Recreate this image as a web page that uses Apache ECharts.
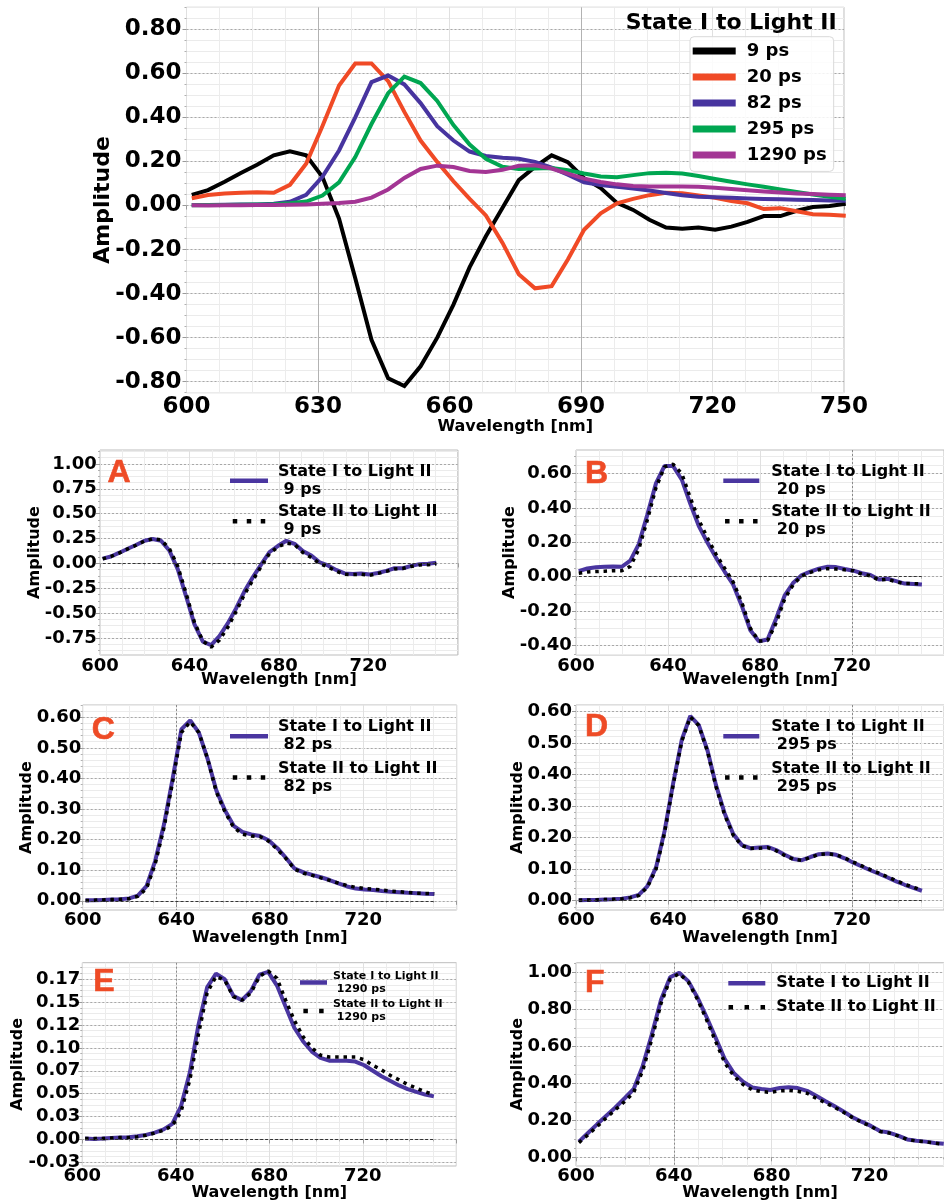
<!DOCTYPE html>
<html>
<head>
<meta charset="utf-8">
<script src="https://cdn.jsdelivr.net/npm/echarts@6/dist/echarts.min.js"></script>
<style>
  html, body { margin: 0; padding: 0; background: #ffffff; }
  #chart { width: 944px; height: 1203px; }
</style>
</head>
<body>
<div id="chart"></div>
<script>
// Sampling wavelengths of the decay-associated spectra (nm)
const wavelengthNm = [601.2, 604.9, 608.7, 612.4, 616.1, 619.9, 623.6, 627.3, 631.0, 634.8,
  638.5, 642.2, 646.0, 649.7, 653.4, 657.2, 660.9, 664.6, 668.3, 672.1,
  675.8, 679.5, 683.3, 687.0, 690.7, 694.5, 698.2, 701.9, 705.6, 709.4,
  713.1, 716.8, 720.6, 724.3, 728.0, 731.7, 735.5, 739.2, 742.9, 746.7, 750.4];

// State I -> Light II amplitudes, one array per lifetime
const stateI_9ps = [0.048, 0.070, 0.108, 0.148, 0.185, 0.228, 0.246, 0.228, 0.130, -0.060,
  -0.330, -0.610, -0.785, -0.820, -0.730, -0.600, -0.450, -0.280, -0.140, -0.010,
  0.115, 0.175, 0.228, 0.197, 0.124, 0.079, 0.012, -0.020, -0.065, -0.100,
  -0.106, -0.100, -0.110, -0.096, -0.074, -0.048, -0.048, -0.024, -0.007, -0.002, 0.008];
const stateI_20ps = [0.033, 0.048, 0.055, 0.058, 0.060, 0.058, 0.094, 0.190, 0.360, 0.545,
  0.645, 0.645, 0.565, 0.425, 0.295, 0.198, 0.110, 0.030, -0.045, -0.170,
  -0.312, -0.376, -0.366, -0.245, -0.110, -0.035, 0.010, 0.030, 0.047, 0.058,
  0.056, 0.045, 0.035, 0.020, 0.010, -0.016, -0.012, -0.026, -0.040, -0.042, -0.046];
const stateI_82ps = [0.002, 0.002, 0.003, 0.004, 0.005, 0.008, 0.017, 0.048, 0.130, 0.250,
  0.400, 0.560, 0.590, 0.550, 0.465, 0.360, 0.295, 0.245, 0.225, 0.217,
  0.212, 0.198, 0.172, 0.140, 0.105, 0.093, 0.085, 0.077, 0.068, 0.057,
  0.047, 0.040, 0.037, 0.035, 0.032, 0.030, 0.028, 0.026, 0.025, 0.023, 0.022];
const stateI_295ps = [0.001, 0.002, 0.002, 0.003, 0.004, 0.006, 0.010, 0.018, 0.045, 0.105,
  0.220, 0.370, 0.510, 0.585, 0.556, 0.475, 0.365, 0.277, 0.212, 0.176,
  0.166, 0.168, 0.170, 0.160, 0.145, 0.132, 0.128, 0.138, 0.147, 0.149,
  0.145, 0.134, 0.120, 0.108, 0.096, 0.085, 0.073, 0.061, 0.050, 0.040, 0.031];
const stateI_1290ps = [0.0010, 0.0005, 0.0010, 0.0015, 0.0020, 0.0025, 0.0035, 0.0050, 0.0075, 0.0110,
  0.0170, 0.0360, 0.0730, 0.1250, 0.1660, 0.1810, 0.1750, 0.1570, 0.1520, 0.1620,
  0.1800, 0.1830, 0.1680, 0.1450, 0.1220, 0.1070, 0.0960, 0.0890, 0.0860, 0.0860,
  0.0860, 0.0850, 0.0810, 0.0750, 0.0690, 0.0640, 0.0590, 0.0550, 0.0520, 0.0490, 0.0470];

// State II -> Light II amplitudes
const stateII_9ps = [0.046, 0.070, 0.106, 0.146, 0.183, 0.225, 0.248, 0.236, 0.150, -0.030,
  -0.300, -0.590, -0.780, -0.840, -0.770, -0.640, -0.480, -0.310, -0.170, -0.030,
  0.100, 0.165, 0.205, 0.190, 0.110, 0.060, 0.000, -0.035, -0.078, -0.108,
  -0.112, -0.108, -0.120, -0.100, -0.080, -0.055, -0.050, -0.030, -0.015, -0.012, -0.004];
const stateII_20ps = [0.020, 0.028, 0.030, 0.032, 0.035, 0.035, 0.060, 0.160, 0.330, 0.520,
  0.640, 0.655, 0.600, 0.460, 0.330, 0.225, 0.130, 0.050, -0.030, -0.150,
  -0.300, -0.375, -0.372, -0.270, -0.130, -0.045, 0.005, 0.025, 0.040, 0.047,
  0.045, 0.040, 0.035, 0.015, 0.005, -0.020, -0.015, -0.030, -0.040, -0.040, -0.042];
const stateII_82ps = [0.001, 0.002, 0.003, 0.004, 0.005, 0.007, 0.015, 0.040, 0.120, 0.240,
  0.390, 0.550, 0.585, 0.550, 0.465, 0.355, 0.290, 0.240, 0.218, 0.212,
  0.210, 0.195, 0.168, 0.138, 0.103, 0.090, 0.083, 0.075, 0.067, 0.058,
  0.050, 0.044, 0.040, 0.038, 0.035, 0.032, 0.030, 0.027, 0.025, 0.024, 0.023];
const stateII_295ps = [0.001, 0.002, 0.002, 0.003, 0.004, 0.005, 0.009, 0.016, 0.042, 0.100,
  0.215, 0.365, 0.505, 0.582, 0.555, 0.472, 0.360, 0.272, 0.208, 0.174,
  0.165, 0.166, 0.168, 0.158, 0.143, 0.131, 0.127, 0.137, 0.146, 0.148,
  0.145, 0.135, 0.122, 0.110, 0.098, 0.087, 0.075, 0.063, 0.052, 0.042, 0.033];
const stateII_1290ps = [0.0010, 0.0010, 0.0010, 0.0015, 0.0020, 0.0020, 0.0030, 0.0045, 0.0070, 0.0100,
  0.0150, 0.0300, 0.0650, 0.1150, 0.1600, 0.1780, 0.1740, 0.1560, 0.1520, 0.1600,
  0.1780, 0.1840, 0.1760, 0.1520, 0.1300, 0.1120, 0.1000, 0.0920, 0.0900, 0.0900,
  0.0900, 0.0900, 0.0870, 0.0810, 0.0760, 0.0700, 0.0650, 0.0600, 0.0560, 0.0520, 0.0490];

// Normalised spectra (panel F)
const fluorStateI = [0.085, 0.132, 0.180, 0.225, 0.270, 0.320, 0.370, 0.495, 0.665, 0.855,
  0.975, 1.000, 0.953, 0.865, 0.760, 0.645, 0.530, 0.455, 0.410, 0.378,
  0.370, 0.365, 0.375, 0.380, 0.375, 0.360, 0.333, 0.305, 0.278, 0.248,
  0.217, 0.193, 0.170, 0.142, 0.134, 0.118, 0.097, 0.090, 0.085, 0.078, 0.073];
const fluorStateII = [0.080, 0.122, 0.168, 0.214, 0.258, 0.302, 0.352, 0.470, 0.640, 0.835,
  0.965, 0.995, 0.948, 0.855, 0.745, 0.625, 0.510, 0.440, 0.395, 0.365,
  0.356, 0.352, 0.360, 0.362, 0.358, 0.347, 0.320, 0.296, 0.272, 0.244,
  0.215, 0.190, 0.168, 0.140, 0.132, 0.116, 0.096, 0.089, 0.084, 0.077, 0.071];

const lifetimeLabels = ['9 ps', '20 ps', '82 ps', '295 ps', '1290 ps'];
const lifetimeColors = ['#000000', '#f04a26', '#47349f', '#00a651', '#a33594'];

// Tick values
const topXTicks = [600, 630, 660, 690, 720, 750];
const topYTicks = [-0.8, -0.6, -0.4, -0.2, 0, 0.2, 0.4, 0.6, 0.8];
const panelXTicks = [600, 640, 680, 720, 760];
const panelXLabels = [600, 640, 680, 720];
const aYTicks = [-0.75, -0.5, -0.25, 0, 0.25, 0.5, 0.75, 1.0];
const bYTicks = [-0.4, -0.2, 0, 0.2, 0.4, 0.6];
const cdYTicks = [0, 0.1, 0.2, 0.3, 0.4, 0.5, 0.6];
const eYTicks = [-0.025, 0, 0.025, 0.05, 0.075, 0.1, 0.125, 0.15, 0.175];
const eYLabels = ['-0.03', '0.00', '0.03', '0.05', '0.07', '0.10', '0.12', '0.15', '0.17'];
const fYTicks = [0, 0.2, 0.4, 0.6, 0.8, 1.0];

const FONT = '"DejaVu Sans", sans-serif';
const PANEL_LINE = '#4a36a0';
const LETTER_COLOR = '#ee4b26';

function ticksEvery(min, max, step) {
  const out = [];
  for (let i = Math.ceil(min / step - 1e-9); i * step <= max + 1e-9; i++) {
    out.push(+(i * step).toFixed(6));
  }
  return out;
}
function pairs(ys) { return wavelengthNm.map((w, i) => [w, ys[i]]); }
function dotIcon(n, size, period) {
  let d = 'path://';
  for (let i = 0; i < n; i++) d += 'M' + (i * period) + ',0h' + size + 'v' + size + 'h-' + size + 'z ';
  return d.trim();
}

const grid = [], xAxis = [], yAxis = [], series = [], legend = [], graphic = [];

function addPanel(p) {
  const g = grid.length;
  grid.push({ left: p.box[0], top: p.box[1], right: p.box[2], bottom: p.box[3],
    show: true, borderColor: '#bdbdbd', borderWidth: 1, backgroundColor: 'transparent' });
  const tickFont = { fontFamily: FONT, fontWeight: 'bold', fontSize: p.tickSize, color: '#000' };

  // minor verticals
  xAxis.push({ type: 'value', gridIndex: g, min: p.x[0], max: p.x[1], position: 'bottom',
    axisLine: { show: false }, axisLabel: { show: false },
    axisTick: { show: true, length: 2, lineStyle: { color: '#b0b0b0' },
      customValues: ticksEvery(p.x[0], p.x[1], p.xMinorStep) },
    splitLine: { show: true, lineStyle: { color: '#ececec', width: 1 } } });
  // labelled x axis
  const xi = xAxis.length;
  xAxis.push({ type: 'value', gridIndex: g, min: p.x[0], max: p.x[1], position: 'bottom',
    name: 'Wavelength [nm]', nameLocation: 'middle', nameGap: p.xNameGap, nameMoveOverlap: false,
    nameTextStyle: { fontFamily: FONT, fontWeight: 'bold', fontSize: 16, color: '#000' },
    axisLine: { show: false },
    axisTick: { show: true, length: 4, lineStyle: { color: '#9a9a9a' }, customValues: p.xTicks },
    axisLabel: Object.assign({ customValues: p.xLabels, margin: p.xLabelMargin,
      formatter: v => String(Math.round(v)) }, tickFont),
    splitLine: { show: true, lineStyle: { color: '#e0e0e0', width: 1 } } });
  // reference verticals
  if (p.xRef && p.xRef.length) {
    xAxis.push({ type: 'value', gridIndex: g, min: p.x[0], max: p.x[1], position: 'bottom',
      axisLine: { show: false }, axisLabel: { show: false },
      axisTick: { show: false, customValues: p.xRef },
      splitLine: { show: true, lineStyle: p.refStyle } });
  }

  // minor horizontals
  yAxis.push({ type: 'value', gridIndex: g, min: p.y[0], max: p.y[1], position: 'left',
    axisLine: { show: false }, axisLabel: { show: false },
    axisTick: { show: true, length: 2, lineStyle: { color: '#b0b0b0' },
      customValues: ticksEvery(p.y[0], p.y[1], p.yMinorStep) },
    splitLine: { show: true, lineStyle: { color: '#ebebeb', width: 1 } } });
  const yi = yAxis.length;
  const ticks = p.yTicks;
  yAxis.push({ type: 'value', gridIndex: g, min: p.y[0], max: p.y[1], position: 'left',
    name: 'Amplitude', nameLocation: 'middle', nameGap: p.yNameGap, nameMoveOverlap: false,
    nameTextStyle: { fontFamily: FONT, fontWeight: 'bold', fontSize: p.yNameSize, color: '#000' },
    axisLine: { show: false },
    axisTick: { show: true, length: 4, lineStyle: { color: '#9a9a9a' }, customValues: ticks },
    axisLabel: Object.assign({ customValues: ticks, margin: p.yLabelMargin,
      formatter: v => {
        if (p.yLabels) {
          const k = ticks.findIndex(t => Math.abs(t - v) < 1e-9);
          return k >= 0 ? p.yLabels[k] : '';
        }
        return (Math.abs(v) < 1e-9 ? 0 : v).toFixed(2);
      } }, tickFont),
    splitLine: { show: true, lineStyle: { color: '#a8a8a8', width: 1, type: [2, 2] } } });
  return { xi, yi };
}

// ---------- overview of all lifetimes ----------
const topAx = addPanel({ box: [186.5, 7.3, 100, 810.3], x: [600, 750], y: [-0.85, 0.9],
  xTicks: topXTicks, xLabels: topXTicks, xMinorStep: 7.5, yTicks: topYTicks, yMinorStep: 0.05,
  xRef: [630, 690], refStyle: { color: '#b2b2b2', width: 1 },
  tickSize: 23, yNameSize: 22, xLabelMargin: 2.5, yLabelMargin: 5, xNameGap: 26.3, yNameGap: 72.5 });

const topSets = [stateI_9ps, stateI_20ps, stateI_82ps, stateI_295ps, stateI_1290ps];
topSets.forEach((vals, i) => {
  const s = { type: 'line', name: lifetimeLabels[i], xAxisIndex: topAx.xi, yAxisIndex: topAx.yi,
    data: pairs(vals), showSymbol: false, symbol: 'none', color: lifetimeColors[i],
    lineStyle: { color: lifetimeColors[i], width: 4, join: 'miter' } };
  if (i === topSets.length - 1) {
    s.markLine = { silent: true, symbol: 'none', label: { show: false },
      lineStyle: { color: '#000', width: 2.2, type: [2, 2.6] },
      data: [[{ coord: [wavelengthNm[0], 0] }, { coord: [wavelengthNm[wavelengthNm.length - 1], 0] }]] };
  }
  series.push(s);
});
legend.push({ data: lifetimeLabels.map(n => ({ name: n, icon: 'rect' })),
  orient: 'vertical', left: 690, top: 36.7, itemWidth: 43, itemHeight: 7, itemGap: 6,
  padding: [4.3, 7, 6.4, 2.7], borderColor: '#d9d9d9', borderWidth: 1, borderRadius: 4,
  backgroundColor: 'rgba(255,255,255,0.85)', selectedMode: false,
  textStyle: { fontFamily: FONT, fontWeight: 'bold', fontSize: 18, lineHeight: 20, color: '#000',
    padding: [0, 0, 0, 6] } });
graphic.push({ type: 'text', x: 836.7, y: 23.3, silent: true, z: 10,
  style: { text: 'State I to Light II', fontFamily: 'DejaVu Sans', fontWeight: 'bold', fontSize: 22,
    fill: '#000000', stroke: 'none', lineWidth: 0, align: 'right', verticalAlign: 'middle' } });

// ---------- State I / State II comparison panels ----------
const panels = [
  { letter: 'A', letterPos: [107.5, 473.3], tag: '\n 9 ps', solid: stateI_9ps, dotted: stateII_9ps,
    box: [100, 450, 486.2, 548], x: [600, 760], y: [-0.92, 1.14], yTicks: aYTicks, yMinorStep: 0.0625,
    yLabelMargin: 3.3, xLabelMargin: 2.7, xNameGap: 17, yNameGap: 57, xRef: [],
    leg: { left: 230, top: 462.8, w: 38, gap: 4.5, fs: 16, lh: 18, pad: 5, dots: dotIcon(3, 4.5, 14) } },
  { letter: 'B', letterPos: [585, 474.2], tag: '\n 20 ps', solid: stateI_20ps, dotted: stateII_20ps,
    box: [576, 450, -5.3, 548], x: [600, 760], y: [-0.456, 0.738], yTicks: bYTicks, yMinorStep: 0.05,
    yLabelMargin: 4.3, xLabelMargin: 2.7, xNameGap: 17, yNameGap: 58, xRef: [720],
    leg: { left: 723.3, top: 462.8, w: 36, gap: 4.5, fs: 16, lh: 18, pad: 7, dots: dotIcon(3, 4.5, 14) } },
  { letter: 'C', letterPos: [91.7, 730], tag: '\n 82 ps', solid: stateI_82ps, dotted: stateII_82ps,
    box: [82.7, 705, 487.3, 293], x: [600, 760], y: [-0.03, 0.64], yTicks: cdYTicks, yMinorStep: 0.02,
    yLabelMargin: 1.5, xLabelMargin: 1, xNameGap: 20.3, yNameGap: 48, xRef: [640],
    leg: { left: 230, top: 718.2, w: 38, gap: 5.3, fs: 16, lh: 18, pad: 5, dots: dotIcon(3, 4.5, 14) } },
  { letter: 'D', letterPos: [585, 727.5], tag: '\n 295 ps', solid: stateI_295ps, dotted: stateII_295ps,
    box: [576, 705, -5.3, 293], x: [600, 760], y: [-0.03, 0.62], yTicks: cdYTicks, yMinorStep: 0.02,
    yLabelMargin: 4, xLabelMargin: 1, xNameGap: 20.3, yNameGap: 49.7, xRef: [720],
    leg: { left: 723.3, top: 718.2, w: 36, gap: 5.3, fs: 16, lh: 18, pad: 7, dots: dotIcon(3, 4.5, 14) } },
  { letter: 'E', letterPos: [93.3, 982.5], tag: '\n 1290 ps', solid: stateI_1290ps, dotted: stateII_1290ps,
    box: [82.3, 962.7, 487.7, 37], x: [600, 760], y: [-0.029, 0.193], yTicks: eYTicks, yLabels: eYLabels,
    yMinorStep: 0.00625, yLabelMargin: 2, xLabelMargin: 1.7, xNameGap: 19.3, yNameGap: 56, xRef: [640],
    leg: { left: 300, top: 969.5, w: 27, gap: 2.5, fs: 11, lh: 13, pad: 1, dots: dotIcon(2, 4, 14) } },
  { letter: 'F', letterPos: [585, 983.3], tag: '', solid: fluorStateI, dotted: fluorStateII,
    box: [576, 962.7, -3.4, 37], x: [600, 750.5], y: [-0.047, 1.054], yTicks: fYTicks, yMinorStep: 0.05,
    yLabelMargin: 4, xLabelMargin: 1.7, xNameGap: 19.3, yNameGap: 49.7, xRef: [640], noZero: true,
    leg: { left: 728.3, top: 974.3, w: 37, gap: 6, fs: 16, lh: 18, pad: 6, dots: dotIcon(3, 4.5, 16) } }
];

panels.forEach(p => {
  const ax = addPanel(Object.assign({
    xTicks: p.x[1] > 751 ? panelXTicks : panelXLabels, xLabels: panelXLabels, xMinorStep: 10,
    refStyle: { color: '#8a8a8a', width: 1, type: [2, 2] }, tickSize: 18, yNameSize: 16
  }, p));
  const nameI = 'State I to Light II' + p.tag;
  const nameII = 'State II to Light II' + p.tag;
  series.push({ type: 'line', name: nameI, xAxisIndex: ax.xi, yAxisIndex: ax.yi, data: pairs(p.solid),
    showSymbol: false, symbol: 'none', color: PANEL_LINE,
    lineStyle: { color: PANEL_LINE, width: 4 } });
  const dotted = { type: 'line', name: nameII, xAxisIndex: ax.xi, yAxisIndex: ax.yi, data: pairs(p.dotted),
    showSymbol: false, symbol: 'none', color: '#000',
    lineStyle: { color: '#000', width: 3.5, type: [3.5, 4.8], cap: 'butt' } };
  if (!p.noZero) {
    dotted.markLine = { silent: true, symbol: 'none', label: { show: false },
      lineStyle: { color: '#333', width: 1, type: [3, 2] },
      data: [[{ coord: [wavelengthNm[0], 0] }, { coord: [wavelengthNm[wavelengthNm.length - 1], 0] }]] };
  }
  series.push(dotted);
  legend.push({ data: [{ name: nameI, icon: 'rect' }, { name: nameII, icon: p.leg.dots }],
    orient: 'vertical', left: p.leg.left, top: p.leg.top, itemWidth: p.leg.w, itemHeight: 4.5,
    itemGap: p.leg.gap, padding: 0, selectedMode: false,
    textStyle: { fontFamily: FONT, fontWeight: 'bold', fontSize: p.leg.fs, lineHeight: p.leg.lh,
      color: '#000', padding: [0, 0, 0, p.leg.pad] } });
  graphic.push({ type: 'text', x: p.letterPos[0], y: p.letterPos[1], silent: true, z: 10,
    style: { text: p.letter, fontFamily: 'Liberation Sans', fontWeight: 'bold', fontSize: 32,
      fill: LETTER_COLOR, stroke: LETTER_COLOR, lineWidth: 0.6, verticalAlign: 'middle' } });
});

const chart = echarts.init(document.getElementById('chart'), null, { renderer: 'canvas' });
chart.setOption({
  animation: false,
  backgroundColor: '#ffffff',
  grid, xAxis, yAxis, series, legend, graphic
});
</script>
</body>
</html>
